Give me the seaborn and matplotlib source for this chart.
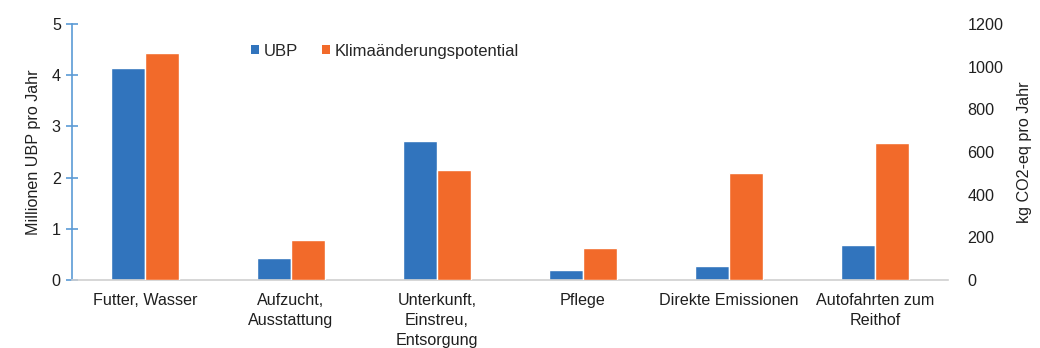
import numpy as np
import pandas as pd
import matplotlib
matplotlib.use("Agg")
import matplotlib.pyplot as plt
from matplotlib.patches import Patch
from matplotlib.ticker import FixedLocator
import seaborn as sns

# Umweltbelastung der Pferdehaltung nach Bereich
categories = ["Futter, Wasser", "Aufzucht,\nAusstattung", "Unterkunft,\nEinstreu,\nEntsorgung",
              "Pflege", "Direkte Emissionen", "Autofahrten zum\nReithof"]
ubp_mio = [4.15, 0.43, 2.71, 0.19, 0.28, 0.69]          # Millionen UBP pro Jahr
co2_kg = [1065, 186, 517, 151, 502, 642]                # kg CO2-eq pro Jahr
series = ["UBP", "Klimaänderungspotential"]

BLUE = "#3174BD"
ORANGE = "#F26A2A"
TEXT = "#1F1F1F"

sns.set_theme(style="white")
plt.rcParams["font.family"] = ["Liberation Sans", "DejaVu Sans"]

n = len(categories)
df = pd.DataFrame({
    "Bereich": categories * 2,
    "Serie": [series[0]] * n + [series[1]] * n,
    "ubp": ubp_mio + [np.nan] * n,
    "co2": [np.nan] * n + co2_kg,
})

fig = plt.figure(figsize=(10.4, 3.48), dpi=100)
ax = fig.add_axes([0.0692, 0.1954, 0.8423, 0.7356])
ax2 = ax.twinx()

palette = {series[0]: BLUE, series[1]: ORANGE}
sns.barplot(data=df, x="Bereich", y="ubp", hue="Serie", hue_order=series,
            order=categories, palette=palette, width=0.47, dodge=True,
            errorbar=None, legend=False, ax=ax, saturation=1)
sns.barplot(data=df, x="Bereich", y="co2", hue="Serie", hue_order=series,
            order=categories, palette=palette, width=0.47, dodge=True,
            errorbar=None, legend=False, ax=ax2, saturation=1)

ax.set_xlim(-0.5, n - 0.5)
ax.set_ylim(0, 5)
ax2.set_ylim(0, 1200)
ax.set_yticks(range(0, 6))
ax2.set_yticks(range(0, 1201, 200))

fs = 11.6
ax.set_ylabel("Millionen UBP pro Jahr", fontsize=fs, color=TEXT, labelpad=8)
ax2.set_ylabel("kg CO2-eq pro Jahr", fontsize=fs, color=TEXT, labelpad=10)
ax.set_xlabel("")
ax2.set_xlabel("")

# Kategorieachse
ax.set_xticks(range(n))
ax.set_xticklabels(categories, fontsize=fs, color=TEXT, linespacing=1.42)
ax.tick_params(axis="x", which="major", length=0, pad=9)
ax.xaxis.set_minor_locator(FixedLocator(np.arange(0.5, n, 1.0)))
ax.tick_params(axis="x", which="minor", length=5, color="#D0D0D0", width=1, direction="out")

# linke Achse in Blau mit durchgehenden Teilstrichen
ax.tick_params(axis="y", labelsize=fs, labelcolor=TEXT, color="#5B9BD5",
               length=8, width=1.2, direction="inout", pad=4, left=True)
ax2.tick_params(axis="y", labelsize=fs, labelcolor=TEXT, length=0, pad=14)

for a in (ax, ax2):
    for side in ("top", "right", "left", "bottom"):
        a.spines[side].set_visible(False)
    a.grid(False)
ax.spines["left"].set_visible(True)
ax.spines["left"].set_color("#5B9BD5")
ax.spines["left"].set_linewidth(1.2)
ax.spines["bottom"].set_visible(True)
ax.spines["bottom"].set_color("#D0D0D0")
ax.spines["bottom"].set_linewidth(1.2)

handles = [Patch(facecolor=BLUE, edgecolor="none", label=series[0]),
           Patch(facecolor=ORANGE, edgecolor="none", label=series[1])]
fig.legend(handles=handles, loc="center left", bbox_to_anchor=(0.241, 0.853),
           ncol=2, frameon=False, fontsize=fs + 0.4, handlelength=0.5, handleheight=0.5,
           handletextpad=0.3, columnspacing=1.4, borderaxespad=0, borderpad=0)

fig.savefig("out.png", dpi=100, facecolor="white")
